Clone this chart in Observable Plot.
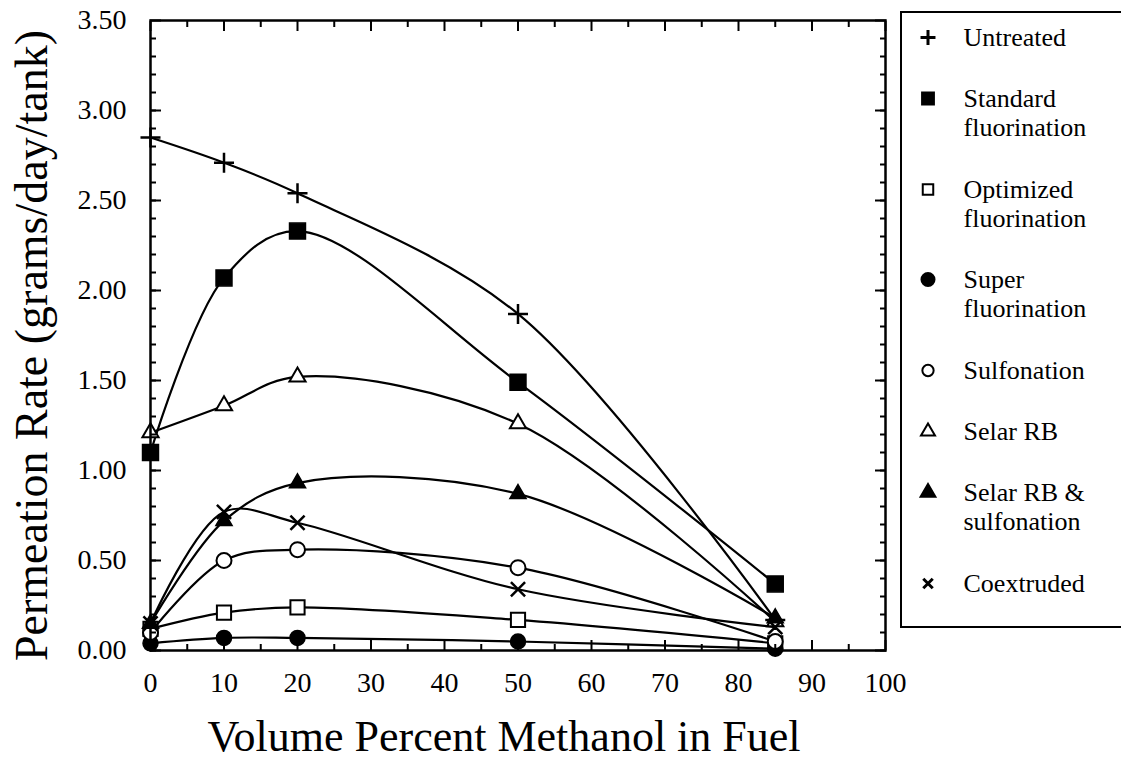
<!DOCTYPE html>
<html><head><meta charset="utf-8">
<script src="https://cdn.jsdelivr.net/npm/d3@7"></script>
<script src="https://cdn.jsdelivr.net/npm/@observablehq/plot@0.6"></script>
<style>
html,body{margin:0;padding:0;background:#fff;}
#wrap{position:relative;width:1121px;height:761px;overflow:hidden;background:#fff;}
#legend{position:absolute;left:900px;top:11px;width:216px;height:603px;border:2.5px solid #000;
  font-family:"Liberation Serif",serif;font-size:26px;line-height:29px;color:#000;
  padding-top:10px;padding-left:12.5px;box-sizing:content-box;}
.row{display:flex;align-items:flex-start;margin-bottom:32.4px;}
.row svg{flex:none;margin-right:23px;}
</style></head><body>
<div id="wrap"><div id="legend"></div></div>
<script>
// ---- data ----
const methanol = [0, 10, 20, 50, 85];
const untreated   = [2.85, 2.71, 2.54, 1.87, 0.17];
const standard    = [1.10, 2.07, 2.33, 1.49, 0.37];
const optimized   = [0.12, 0.21, 0.24, 0.17, 0.04];
const superFluor  = [0.04, 0.07, 0.07, 0.05, 0.01];
const sulfonation = [0.10, 0.50, 0.56, 0.46, 0.05];
const selarRB     = [1.21, 1.36, 1.52, 1.26, 0.16];
const selarSulf   = [0.15, 0.72, 0.93, 0.87, 0.18];
const coextruded  = [0.15, 0.77, 0.71, 0.34, 0.13];

const seriesNames = ["Untreated", "Standard\nfluorination", "Optimized\nfluorination", "Super\nfluorination",
  "Sulfonation", "Selar RB", "Selar RB &\nsulfonation", "Coextruded"];
const seriesValues = [untreated, standard, optimized, superFluor, sulfonation, selarRB, selarSulf, coextruded];

const xMajor = [0,10,20,30,40,50,60,70,80,90,100];
const xMinor = [5,15,25,35,45,55,65,75,85,95];
const yMajor = [0,0.5,1,1.5,2,2.5,3,3.5];
const yMinor = d3.range(0, 35).map(i => i/10);

// ---- styles (per series) ----
const styles = [
  {symbol:"plus", fill:"none", r:6.5, sw:2.5, leg:{type:d3.symbolPlus, size:75}},
  {symbol:"square", fill:"black", r:9, sw:1.5, leg:{type:d3.symbolSquare, size:140}},
  {symbol:"square", fill:"white", r:8, sw:2, leg:{type:d3.symbolSquare, size:110}},
  {symbol:"circle", fill:"black", r:7.5, sw:1.5, leg:{type:d3.symbolCircle, size:133}},
  {symbol:"circle", fill:"white", r:7.5, sw:2, leg:{type:d3.symbolCircle, size:100}},
  {symbol:"triangle", fill:"white", r:6, sw:2, leg:{type:d3.symbolTriangle, size:85}},
  {symbol:"triangle", fill:"black", r:6, sw:1.5, leg:{type:d3.symbolTriangle, size:95}},
  {symbol:"times", fill:"none", r:6.5, sw:2.5, leg:{type:d3.symbolTimes, size:60}}
];

const rows = seriesNames.flatMap((name, s) => methanol.map((x, i) => ({series: name, x, y: seriesValues[s][i]})));

const dotMarks = seriesNames.map((name, s) => Plot.dot(rows.filter(d => d.series === name), {
  x: "x", y: "y", symbol: styles[s].symbol, r: styles[s].r,
  fill: styles[s].fill, stroke: "black", strokeWidth: styles[s].sw
}));

const tickStyle = {fill: "none", label: null, strokeWidth: 2};

const chart = Plot.plot({
  width: 1121, height: 761,
  marginLeft: 150, marginRight: 236, marginTop: 20, marginBottom: 111,
  x: {domain: [0, 100], axis: null},
  y: {domain: [0, 3.5], axis: null},
  style: {fontFamily: "Liberation Serif, serif", fontSize: "28px", color: "#000", background: "#fff", overflow: "visible"},
  marks: [
    Plot.line(rows, {x: "x", y: "y", z: "series", curve: "catmull-rom", stroke: "black", strokeWidth: 2.2}),
    ...dotMarks,
    // inward ticks
    Plot.axisY({anchor: "left", ticks: yMinor, tickSize: -6, ...tickStyle}),
    Plot.axisY({anchor: "left", ticks: yMajor, tickSize: -11, ...tickStyle}),
    Plot.axisY({anchor: "right", ticks: yMinor, tickSize: -6, ...tickStyle}),
    Plot.axisY({anchor: "right", ticks: yMajor, tickSize: -11, ...tickStyle}),
    Plot.axisX({anchor: "bottom", ticks: xMinor, tickSize: -6, ...tickStyle}),
    Plot.axisX({anchor: "bottom", ticks: xMajor, tickSize: -10, ...tickStyle}),
    Plot.axisX({anchor: "top", ticks: xMinor, tickSize: -6, ...tickStyle}),
    Plot.axisX({anchor: "top", ticks: xMajor, tickSize: -10, ...tickStyle}),
    // tick labels
    Plot.axisY({anchor: "left", ticks: yMajor, tickSize: 0, tickPadding: 24, tickFormat: d => d.toFixed(2), label: null, fontSize: 28}),
    Plot.axisX({anchor: "bottom", ticks: xMajor, tickSize: 0, tickPadding: 22, tickFormat: d => String(d), label: null, fontSize: 28}),
    // titles
    Plot.text(["Volume Percent Methanol in Fuel"], {frameAnchor: "bottom", dx: -14, dy: 86, textAnchor: "middle", lineAnchor: "middle", fontSize: 44}),
    Plot.text(["Permeation Rate (grams/day/tank)"], {frameAnchor: "left", rotate: -90, dx: -118, dy: 10, textAnchor: "middle", lineAnchor: "middle", fontSize: 46}),
    Plot.frame({stroke: "black", strokeWidth: 2.5})
  ]
});
document.getElementById("wrap").prepend(chart);

// ---- legend ----
const legend = d3.select("#legend");
seriesNames.forEach((name, s) => {
  const row = legend.append("div").attr("class", "row");
  const svg = row.append("svg").attr("width", 26).attr("height", 29);
  const st = styles[s];
  const stroke = st.symbol === "plus" || st.symbol === "times";
  svg.append("path")
    .attr("transform", "translate(13,14.5)")
    .attr("d", d3.symbol(st.leg.type, st.leg.size)())
    .attr("fill", stroke ? "none" : st.fill)
    .attr("stroke", "black")
    .attr("stroke-width", stroke ? 3 : 2);
  const txt = row.append("div");
  name.split("\n").forEach(line => txt.append("div").text(line));
});
</script>
</body></html>
